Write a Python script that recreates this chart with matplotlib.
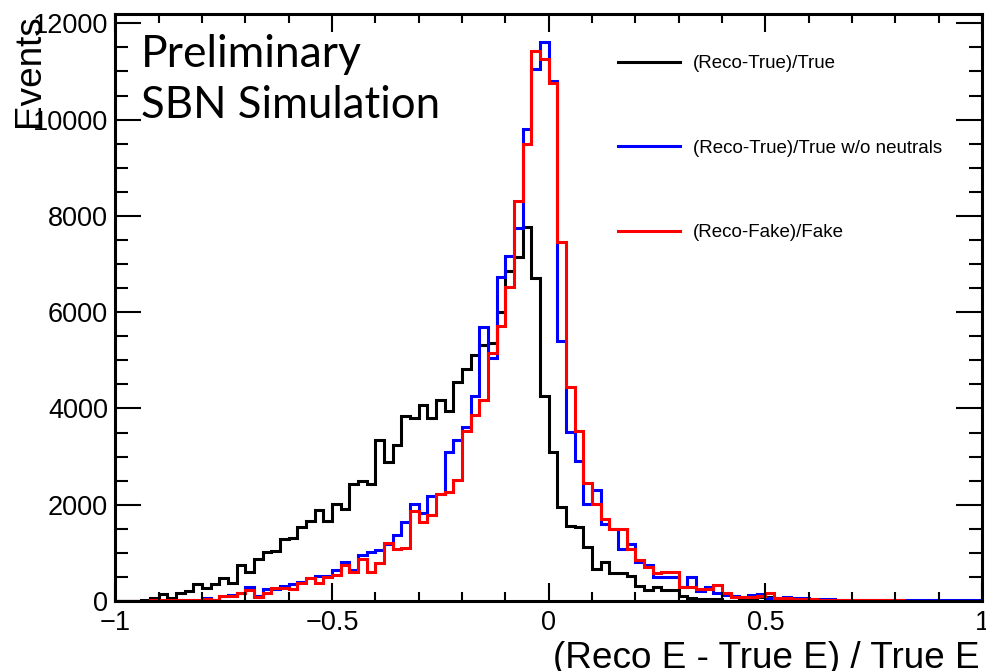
import numpy as np
import matplotlib
matplotlib.use("Agg")
from matplotlib import pyplot as plt
from matplotlib.ticker import MultipleLocator

# 100 bins of width 0.02 from -1 to 1
edges = np.linspace(-1, 1, 101)

reco_true = [
    0, 0, 5, 15, 70, 140, 70, 175, 215, 355,
    270, 355, 485, 365, 755, 600, 865, 1010, 1030, 1290,
    1315, 1540, 1660, 1890, 1665, 2015, 1915, 2440, 2495, 2425,
    3340, 2890, 3240, 3840, 3805, 4070, 3810, 4180, 3950, 4540,
    4830, 5110, 5310, 5350, 6000, 6860, 7140, 7760, 6700, 4250,
    3095, 1955, 1560, 1540, 1115, 660, 810, 580, 580, 520,
    310, 230, 290, 235, 235, 100, 60, 45, 40, 40,
    10, 10, 70, 20, 80, 80, 20, 15, 10, 10,
    5, 5, 5, 5, 5, 5, 0, 0, 0, 0,
    0, 0, 0, 0, 0, 0, 0, 0, 0, 0,
]

reco_true_noneutral = [
    0, 0, 0, 0, 20, 20, 20, 20, 20, 20,
    55, 20, 110, 130, 160, 297, 110, 245, 245, 320,
    360, 400, 484, 518, 518, 642, 815, 642, 953, 1010,
    1050, 1190, 1368, 1644, 2010, 1835, 2176, 2231, 3095, 3337,
    3620, 4260, 5700, 5050, 6736, 7171, 7758, 9810, 11053, 11613,
    10798, 5409, 3510, 2908, 2010, 2310, 1596, 1490, 1080, 1190,
    810, 746, 504, 504, 504, 300, 504, 200, 290, 159,
    120, 110, 80, 124, 150, 60, 55, 80, 55, 55,
    50, 41, 41, 30, 30, 30, 30, 25, 25, 25,
    25, 20, 20, 20, 20, 20, 20, 20, 20, 20,
]

reco_fake = [
    0, 0, 0, 0, 20, 20, 20, 20, 20, 20,
    50, 20, 110, 110, 160, 228, 80, 160, 262, 276,
    242, 366, 469, 366, 504, 539, 746, 608, 863, 608,
    780, 1200, 1080, 1100, 1872, 1635, 1782, 2225, 2258, 2508,
    3540, 3860, 4176, 5160, 5720, 6514, 8311, 9496, 11434, 11268,
    10764, 7468, 4456, 3530, 2452, 2010, 1714, 1506, 1506, 1080,
    850, 711, 590, 608, 608, 283, 283, 242, 242, 332,
    159, 90, 90, 90, 110, 170, 55, 55, 40, 40,
    50, 30, 30, 20, 20, 20, 20, 15, 15, 15,
    15, 10, 10, 10, 10, 10, 10, 10, 10, 10,
]

labels = ["(Reco-True)/True", "(Reco-True)/True w/o neutrals", "(Reco-Fake)/Fake"]
colors = ["black", "blue", "red"]

plt.rcParams["font.family"] = ["Liberation Sans", "DejaVu Sans"]

fig = plt.figure(figsize=(9.87, 6.71), dpi=100)
ax = fig.add_axes([0.117, 0.1043, 0.878, 0.8748])

for vals, lab, col in zip([reco_true, reco_true_noneutral, reco_fake], labels, colors):
    ax.stairs(vals, edges, color=col, linewidth=2.2, label=lab)

ax.set_xlim(-1, 1)
ax.set_ylim(0, 1.05 * max(reco_true_noneutral))

# ROOT-like frame: ticks inside on all four sides
for s in ax.spines.values():
    s.set_linewidth(2.2)
ax.xaxis.set_major_locator(MultipleLocator(0.5))
ax.xaxis.set_minor_locator(MultipleLocator(0.1))
ax.yaxis.set_major_locator(MultipleLocator(2000))
ax.yaxis.set_minor_locator(MultipleLocator(500))
ax.tick_params(axis="both", which="both", direction="in", top=True, right=True, width=1.5)
ax.tick_params(axis="x", which="major", length=12.7, pad=6.5, labelsize=19.5)
ax.tick_params(axis="x", which="minor", length=6.3)
ax.tick_params(axis="y", which="major", length=18.7, pad=5.4, labelsize=19.5)
ax.tick_params(axis="y", which="minor", length=9.4)
ax.xaxis.set_major_formatter(plt.FuncFormatter(lambda v, p: ("%g" % v).replace("-", "\u2212")))

fig.text(980 / 987, 1 - 668 / 671, "(Reco E - True E) / True E", ha="right", va="baseline", fontsize=26.6)
fig.text(30 / 987, 1 - 14 / 671, "Events", rotation=90, ha="center", va="top", fontsize=26.6)

ax.text(0.029, 0.91, "Preliminary", transform=ax.transAxes, fontsize=32, family="Lato", va="baseline")
ax.text(0.029, 0.823, "SBN Simulation", transform=ax.transAxes, fontsize=31.5, family="Lato", va="baseline")

ax.legend(loc="upper left", bbox_to_anchor=(0.58, 0.93), frameon=False, fontsize=13.5,
          handlelength=3.3, handletextpad=0.7, labelspacing=3.6, borderpad=0, borderaxespad=0,
          handles=[plt.Line2D([], [], color=c, lw=2.2) for c in colors], labels=labels)

fig.savefig("out.png", dpi=100)
